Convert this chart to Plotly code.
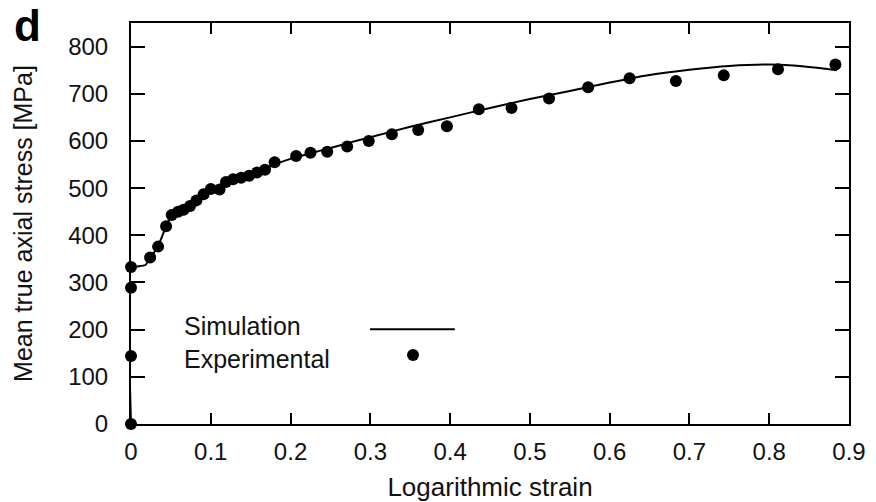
import plotly.graph_objects as go

# ---- data ----
sim_strain = [0, 0, 0.008, 0.018, 0.025, 0.034, 0.044, 0.051, 0.06, 0.07, 0.08, 0.09,
              0.1, 0.11, 0.12, 0.135, 0.15, 0.165, 0.18, 0.2, 0.225, 0.25, 0.275, 0.3,
              0.35, 0.4, 0.45, 0.5, 0.55, 0.6, 0.65, 0.7, 0.75, 0.8, 0.83, 0.86, 0.885]
sim_stress = [0, 332, 334, 337, 354, 377, 419, 442, 452, 461, 470, 481,
              492, 500, 510, 519, 528, 538, 550, 562, 574, 585, 597, 608,
              630, 650, 670, 689, 706, 724, 740, 751, 759, 762, 760, 755, 750]

exp_strain = [0, 0, 0, 0, 0.024, 0.034, 0.044, 0.051, 0.059, 0.066, 0.074, 0.082,
              0.091, 0.1, 0.111, 0.119, 0.128, 0.138, 0.148, 0.158, 0.168, 0.18,
              0.207, 0.225, 0.246, 0.271, 0.298, 0.327, 0.36, 0.396, 0.436, 0.477,
              0.524, 0.573, 0.625, 0.683, 0.743, 0.811, 0.883]
exp_stress = [0, 144, 289, 333, 353, 376, 419, 443, 450, 454, 462, 474,
              487, 498, 497, 513, 519, 522, 526, 533, 539, 555,
              568, 575, 577, 588, 600, 614, 623, 631, 667, 670,
              690, 714, 733, 727, 739, 752, 762]

x_ticks = [0, 0.1, 0.2, 0.3, 0.4, 0.5, 0.6, 0.7, 0.8, 0.9]
x_tick_labels = ["0", "0.1", "0.2", "0.3", "0.4", "0.5", "0.6", "0.7", "0.8", "0.9"]
y_ticks = [0, 100, 200, 300, 400, 500, 600, 700, 800]
y_tick_labels = ["0", "100", "200", "300", "400", "500", "600", "700", "800"]
legend_labels = ["Simulation", "Experimental"]

FONT = "Liberation Sans, Arial, Helvetica, sans-serif"

fig = go.Figure()
fig.add_trace(go.Scatter(
    x=sim_strain, y=sim_stress, mode="lines", name=legend_labels[0],
    line=dict(color="black", width=2, shape="spline", smoothing=0.5),
    cliponaxis=False, showlegend=False))
fig.add_trace(go.Scatter(
    x=exp_strain, y=exp_stress, mode="markers", name=legend_labels[1],
    marker=dict(color="black", size=12, line=dict(width=0)),
    cliponaxis=False, showlegend=False))

# legend drawn as text + key shapes (text left, key right as in the reference)
fig.add_annotation(x=0.072, y=0.204, xref="paper", yref="paper",
                   text="<br>".join(legend_labels), align="left",
                   showarrow=False, xanchor="left", yanchor="middle", borderpad=0,
                   font=dict(family=FONT, size=25, color="#111"))
fig.add_shape(type="line", xref="paper", yref="paper", x0=0.333, x1=0.451,
              y0=0.236, y1=0.236, line=dict(color="black", width=2))
fig.add_shape(type="circle", xref="paper", yref="paper", xsizemode="pixel",
              ysizemode="pixel", xanchor=0.3928, yanchor=0.172,
              x0=-6, x1=6, y0=-6, y1=6, fillcolor="black", line=dict(width=0))

# panel letter
fig.add_annotation(x=-0.1435, y=0.995, xref="paper", yref="paper", text="<b>d</b>",
                   showarrow=False, xanchor="center", yanchor="middle",
                   font=dict(family=FONT, size=44, color="black"))

fig.update_layout(
    width=876, height=502,
    margin=dict(l=131, r=27, t=23, b=78, autoexpand=False),
    paper_bgcolor="white", plot_bgcolor="white",
    font=dict(family=FONT, color="#111"),
    xaxis=dict(range=[0, 0.9], tickvals=x_ticks, ticktext=x_tick_labels,
               ticks="inside", ticklen=11, tickwidth=2, tickcolor="black",
               showline=True, linecolor="black", linewidth=2, mirror="ticks",
               showgrid=False, zeroline=False, tickfont=dict(size=24),
               ticklabelstandoff=5, automargin=False,
               title=dict(text="Logarithmic strain", font=dict(size=26), standoff=14)),
    yaxis=dict(range=[0, 850], tickvals=y_ticks, ticktext=y_tick_labels,
               ticks="inside", ticklen=14, tickwidth=2, tickcolor="black",
               showline=True, linecolor="black", linewidth=2, mirror="ticks",
               showgrid=False, zeroline=False, tickfont=dict(size=24),
               ticklabelstandoff=16, automargin=False,
               title=dict(text="Mean true axial stress [MPa]", font=dict(size=25), standoff=28)),
)

fig.write_html("out.html")
